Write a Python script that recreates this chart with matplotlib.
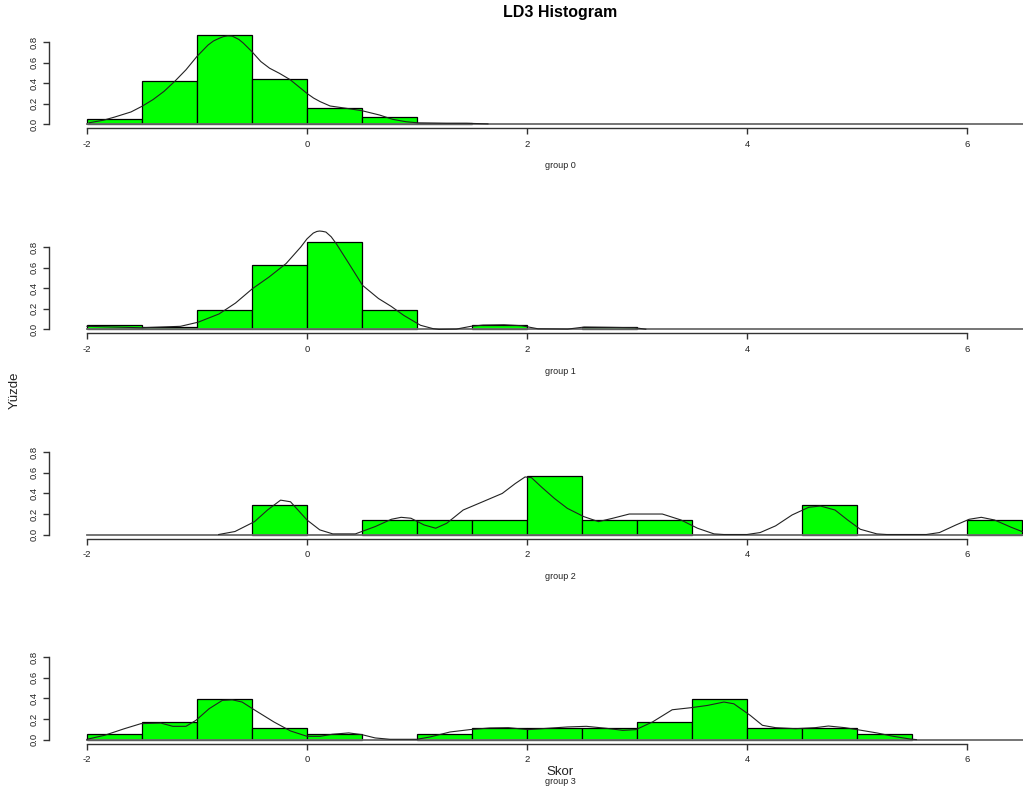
import matplotlib
matplotlib.use("Agg")
import matplotlib.pyplot as plt

plt.rcParams['font.family'] = ['Liberation Sans', 'DejaVu Sans']

# Histogram bin edges (width 0.5) shared by all groups
bin_edges = [-2.0, -1.5, -1.0, -0.5, 0.0, 0.5, 1.0, 1.5, 2.0, 2.5, 3.0,
             3.5, 4.0, 4.5, 5.0, 5.5, 6.0, 6.5]

group_names = ["group 0", "group 1", "group 2", "group 3"]

# Density-scaled bar heights per bin
dens_g0 = [0.049, 0.424, 0.868, 0.437, 0.162, 0.068, 0.013, 0, 0, 0, 0, 0, 0, 0, 0, 0, 0]
dens_g1 = [0.046, 0.023, 0.186, 0.628, 0.852, 0.186, 0, 0.046, 0, 0.023, 0, 0, 0, 0, 0, 0, 0]
dens_g2 = [0, 0, 0, 0.286, 0, 0.143, 0.143, 0.143, 0.571, 0.143, 0.143, 0, 0, 0.286, 0, 0, 0.143]
dens_g3 = [0.058, 0.168, 0.397, 0.116, 0.058, 0, 0.058, 0.116, 0.116, 0.116, 0.168, 0.397,
           0.116, 0.116, 0.058, 0, 0]

# Kernel density curves (x, y) per group
kde_x_g0 = [-1.98, -1.85, -1.75, -1.6, -1.5, -1.4, -1.3, -1.2, -1.1, -1.0, -0.9, -0.85,
            -0.8, -0.76, -0.72, -0.68, -0.62, -0.58, -0.5, -0.42, -0.34, -0.25, -0.155,
            -0.08, 0.0, 0.06, 0.12, 0.21, 0.36, 0.5, 0.66, 0.78, 0.9, 1.01, 1.27, 1.45,
            1.645]
kde_y_g0 = [0.015, 0.04, 0.07, 0.12, 0.175, 0.24, 0.32, 0.42, 0.53, 0.66, 0.77, 0.81,
            0.835, 0.852, 0.86, 0.857, 0.825, 0.79, 0.705, 0.61, 0.545, 0.495, 0.435,
            0.37, 0.30, 0.255, 0.22, 0.178, 0.155, 0.132, 0.09, 0.048, 0.025, 0.014,
            0.01, 0.01, 0.004]

kde_x_g1 = [-2.0, -1.51, -1.15, -0.99, -0.8, -0.65, -0.497, -0.344, -0.19, -0.057, 0.0,
            0.057, 0.09, 0.115, 0.14, 0.172, 0.22, 0.268, 0.382, 0.505, 0.65, 0.765,
            0.88, 1.032, 1.147, 1.2, 1.357, 1.49, 1.6, 1.79, 1.95, 2.1, 2.37, 2.52,
            2.75, 2.98, 3.08]
kde_y_g1 = [0.03, 0.016, 0.03, 0.07, 0.15, 0.256, 0.395, 0.51, 0.64, 0.80, 0.88,
            0.936, 0.952, 0.956, 0.953, 0.946, 0.90, 0.83, 0.638, 0.428, 0.30, 0.224,
            0.136, 0.04, 0.007, 0.0, 0.003, 0.03, 0.042, 0.045, 0.036, 0.006, 0.003,
            0.023, 0.02, 0.016, 0.002]

kde_x_g2 = [-0.803, -0.655, -0.477, -0.359, -0.24, -0.15, 0.0, 0.116, 0.234, 0.44, 0.62,
            0.767, 0.856, 0.945, 1.064, 1.17, 1.27, 1.42, 1.597, 1.775, 1.893, 1.982,
            2.04, 2.13, 2.25, 2.367, 2.516, 2.65, 2.78, 2.93, 3.08, 3.23, 3.4, 3.55,
            3.7, 3.79, 4.0, 4.12, 4.26, 4.41, 4.56, 4.667, 4.8, 4.915, 5.03, 5.18,
            5.27, 5.63, 5.75, 5.9, 6.02, 6.13, 6.25, 6.4, 6.5, 6.6]
kde_y_g2 = [0.0, 0.029, 0.125, 0.238, 0.334, 0.318, 0.141, 0.045, 0.006, 0.006, 0.077,
            0.148, 0.167, 0.158, 0.093, 0.061, 0.109, 0.238, 0.318, 0.399, 0.495, 0.559,
            0.553, 0.463, 0.35, 0.254, 0.174, 0.125, 0.158, 0.199, 0.199, 0.199, 0.141,
            0.061, 0.006, 0.0, 0.0, 0.019, 0.084, 0.19, 0.264, 0.277, 0.238, 0.141,
            0.051, 0.006, 0.0, 0.0, 0.019, 0.093, 0.148, 0.167, 0.141, 0.071, 0.029, 0.01]

kde_x_g3 = [-2.0, -1.84, -1.66, -1.51, -1.33, -1.22, -1.1, -1.01, -0.89, -0.77, -0.68,
            -0.59, -0.48, -0.3, -0.15, 0.0, 0.12, 0.23, 0.38, 0.5, 0.62, 0.755, 1.0,
            1.12, 1.3, 1.48, 1.66, 1.83, 2.01, 2.19, 2.37, 2.54, 2.72, 2.87, 2.99,
            3.14, 3.32, 3.49, 3.64, 3.79, 3.88, 4.03, 4.14, 4.26, 4.44, 4.62, 4.74,
            4.89, 5.04, 5.18, 5.33, 5.48, 5.54]
kde_y_g3 = [0.003, 0.042, 0.106, 0.155, 0.161, 0.129, 0.129, 0.187, 0.30, 0.381, 0.387,
            0.365, 0.29, 0.171, 0.084, 0.032, 0.032, 0.052, 0.065, 0.048, 0.016, 0.003,
            0.003, 0.026, 0.074, 0.097, 0.113, 0.116, 0.097, 0.11, 0.123, 0.129, 0.11,
            0.09, 0.097, 0.171, 0.29, 0.31, 0.332, 0.365, 0.348, 0.235, 0.139, 0.116,
            0.106, 0.116, 0.132, 0.116, 0.09, 0.065, 0.032, 0.006, 0.0]

heights = [dens_g0, dens_g1, dens_g2, dens_g3]
curves = [(kde_x_g0, kde_y_g0), (kde_x_g1, kde_y_g1),
          (kde_x_g2, kde_y_g2), (kde_x_g3, kde_y_g3)]

x_ticks = [-2, 0, 2, 4, 6]
y_ticks = [0.0, 0.2, 0.4, 0.6, 0.8]

W, H = 1023, 793
fig = plt.figure(figsize=(W / 100, H / 100), dpi=100)

# Layout in pixels
px_per_x = 110.0
px_per_y = 102.9
x_left_px = 49.3
x0_px = 87.0            # pixel of x = -2
zero0_px = 124.3        # pixel of y = 0 in the first panel
panel_step = 205.1
xlim = (-2 - (x0_px - x_left_px) / px_per_x, -2 + (1067 - x0_px) / px_per_x)
ylim = (-0.039, 1.009)

for i in range(4):
    zero_px = zero0_px + panel_step * i
    bottom_px = zero_px - ylim[0] * px_per_y
    top_px = zero_px - ylim[1] * px_per_y
    ax = fig.add_axes([x_left_px / W, 1 - bottom_px / H,
                       (1067 - x_left_px) / W, (bottom_px - top_px) / H])
    ax.set_xlim(*xlim)
    ax.set_ylim(*ylim)
    ax.patch.set_visible(False)

    lefts = [bin_edges[k] for k, h in enumerate(heights[i]) if h > 0]
    hs = [h for h in heights[i] if h > 0]
    ax.bar(lefts, hs, width=0.5, align='edge', color='#00ff00',
           edgecolor='black', linewidth=0.9, zorder=2)
    ax.plot([-2, xlim[1]], [0, 0], color='#6a6a6a', linewidth=1.3, zorder=3)
    cx, cy = curves[i]
    ax.plot(cx, cy, color='#222222', linewidth=0.8, zorder=4)

    for s in ('top', 'right'):
        ax.spines[s].set_visible(False)
    ax.spines['left'].set_bounds(0, 0.8)
    ax.spines['bottom'].set_bounds(-2, 6)
    for s in ('left', 'bottom'):
        ax.spines[s].set_color('#333333')
        ax.spines[s].set_linewidth(1.0)
    ax.set_xticks(x_ticks)
    ax.set_xticklabels([str(t) for t in x_ticks])
    ax.set_yticks(y_ticks)
    ax.set_yticklabels(["%.1f" % t for t in y_ticks], rotation=90, va='center')
    ax.tick_params(axis='both', length=4.2, width=1.0, color='#333333',
                   labelsize=6.8, labelcolor='#222222')
    ax.tick_params(axis='x', pad=4.0)
    ax.tick_params(axis='y', pad=3.2)

    fig.text(560 / W, 1 - (166 + panel_step * i) / H, group_names[i],
             ha='center', va='center', fontsize=6.5, color='#222222')

fig.text(560 / W, 1 - 12 / H, "LD3 Histogram", ha='center', va='center',
         fontsize=11.5, fontweight='bold')
fig.text(560 / W, 1 - 772 / H, "Skor", ha='center', va='center', fontsize=9.5,
         color='#222222')
fig.text(15 / W, 1 - 390 / H, "Yüzde", ha='center', va='center', fontsize=9.5,
         rotation=90, color='#222222')

fig.savefig("out.png", dpi=100)
